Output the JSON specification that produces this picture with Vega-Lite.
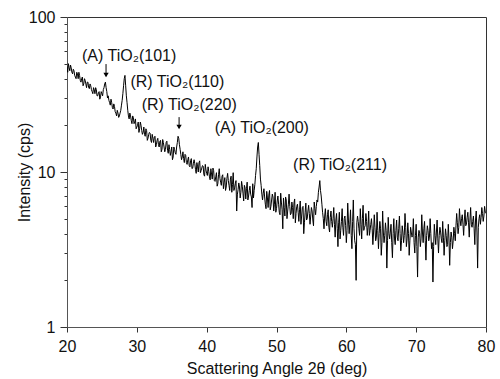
{
  "$schema": "https://vega.github.io/schema/vega-lite/v6.json",
  "width": 419,
  "height": 310,
  "autosize": {"type": "none"},
  "padding": {"left": 67, "top": 17, "right": 14, "bottom": 52},
  "background": "white",
  "config": {
    "view": {"stroke": "#333", "strokeWidth": 1},
    "font": "Liberation Sans",
    "axis": {"grid": false, "domainColor": "#555", "tickColor": "#333", "labelColor": "#111", "titleColor": "#111", "labelFont": "Liberation Sans", "titleFont": "Liberation Sans", "labelFontSize": 16, "titleFontSize": 16, "titleFontWeight": "normal"}
  },
  "datasets": {
    "xrd": [
      {"a":20.0,"i":48},{"a":20.2,"i":50},{"a":20.4,"i":45},{"a":20.6,"i":47},{"a":20.8,"i":43},
      {"a":21.0,"i":45},{"a":21.2,"i":41},{"a":21.4,"i":44},{"a":21.6,"i":40},{"a":21.8,"i":42},
      {"a":22.0,"i":38},{"a":22.2,"i":41},{"a":22.4,"i":37},{"a":22.6,"i":39},{"a":22.8,"i":35},
      {"a":23.0,"i":38},{"a":23.2,"i":34.5},{"a":23.4,"i":36},{"a":23.6,"i":33},{"a":23.8,"i":35},
      {"a":24.0,"i":32},{"a":24.2,"i":34},{"a":24.4,"i":31},{"a":24.6,"i":33},{"a":24.8,"i":30.5},
      {"a":25.0,"i":32},{"a":25.2,"i":34},{"a":25.4,"i":37},{"a":25.6,"i":35},{"a":25.8,"i":30},
      {"a":26.0,"i":29},{"a":26.2,"i":27},{"a":26.4,"i":28},{"a":26.6,"i":25.5},{"a":26.8,"i":26.5},
      {"a":27.0,"i":24},{"a":27.2,"i":25},{"a":27.4,"i":22.5},{"a":27.6,"i":24},{"a":27.8,"i":27},
      {"a":28.0,"i":32},{"a":28.2,"i":40},{"a":28.3,"i":42},{"a":28.4,"i":36},{"a":28.6,"i":28},
      {"a":28.8,"i":23},{"a":29.0,"i":24},{"a":29.2,"i":21.5},{"a":29.4,"i":23},{"a":29.6,"i":20.5},
      {"a":29.8,"i":22},{"a":30.0,"i":19.5},{"a":30.2,"i":21},{"a":30.4,"i":19},{"a":30.6,"i":20},
      {"a":30.8,"i":17.5},{"a":31.0,"i":19.5},{"a":31.2,"i":17},{"a":31.4,"i":18.5},{"a":31.6,"i":16.5},
      {"a":31.8,"i":18},{"a":32.0,"i":16},{"a":32.2,"i":17.5},{"a":32.4,"i":15.5},{"a":32.6,"i":17},
      {"a":32.8,"i":15},{"a":33.0,"i":16.5},{"a":33.2,"i":14.5},{"a":33.4,"i":16},{"a":33.6,"i":14},
      {"a":33.8,"i":15.5},{"a":34.0,"i":13.5},{"a":34.2,"i":15.5},{"a":34.4,"i":13.8},{"a":34.6,"i":15},
      {"a":34.8,"i":12.8},{"a":35.0,"i":14.5},{"a":35.2,"i":12.5},{"a":35.4,"i":14},{"a":35.6,"i":13},
      {"a":35.8,"i":15.5},{"a":36.0,"i":16.5},{"a":36.2,"i":14},{"a":36.4,"i":12},{"a":36.6,"i":13.5},
      {"a":36.8,"i":11.5},{"a":37.0,"i":12.8},{"a":37.2,"i":11.2},{"a":37.4,"i":12.5},{"a":37.6,"i":10.8},
      {"a":37.8,"i":12.2},{"a":38.0,"i":10.6},{"a":38.2,"i":12},{"a":38.4,"i":10.4},{"a":38.6,"i":11.5},
      {"a":38.8,"i":10},{"a":39.0,"i":11.8},{"a":39.2,"i":10.2},{"a":39.4,"i":11},{"a":39.6,"i":9.6},
      {"a":39.8,"i":11.2},{"a":40.0,"i":9.8},{"a":40.2,"i":10.8},{"a":40.4,"i":9.3},{"a":40.6,"i":10.5},
      {"a":40.8,"i":9.0},{"a":41.0,"i":10.2},{"a":41.2,"i":8.7},{"a":41.4,"i":9.9},{"a":41.6,"i":8.4},
      {"a":41.8,"i":10.5},{"a":42.0,"i":8.6},{"a":42.2,"i":9.4},{"a":42.4,"i":7.8},{"a":42.6,"i":9.2},
      {"a":42.8,"i":8.0},{"a":43.0,"i":9.8},{"a":43.2,"i":8.2},{"a":43.4,"i":9.0},{"a":43.6,"i":7.4},
      {"a":43.8,"i":9.9},{"a":44.0,"i":7.9},{"a":44.2,"i":8.8},{"a":44.4,"i":7.2},{"a":44.6,"i":8.5},
      {"a":44.8,"i":6.8},{"a":45.0,"i":8.7},{"a":45.2,"i":7.3},{"a":45.4,"i":8.2},{"a":45.6,"i":6.7},
      {"a":45.8,"i":8.6},{"a":46.0,"i":7.0},{"a":46.2,"i":8.1},{"a":46.4,"i":6.9},{"a":46.6,"i":8.4},
      {"a":46.8,"i":7.6},{"a":47.0,"i":9.5},{"a":47.2,"i":12.5},{"a":47.4,"i":15.5},{"a":47.6,"i":11},
      {"a":47.8,"i":8.2},{"a":48.0,"i":6.6},{"a":48.2,"i":7.8},{"a":48.4,"i":6.2},{"a":48.6,"i":7.5},
      {"a":48.8,"i":5.9},{"a":49.0,"i":7.6},{"a":49.2,"i":6.0},{"a":49.4,"i":7.2},{"a":49.6,"i":5.6},
      {"a":49.8,"i":7.4},{"a":50.0,"i":5.8},{"a":50.2,"i":7.0},{"a":50.4,"i":5.5},{"a":50.6,"i":7.3},
      {"a":50.8,"i":5.7},{"a":51.0,"i":6.8},{"a":51.2,"i":5.2},{"a":51.4,"i":6.6},{"a":51.6,"i":5.6},
      {"a":51.8,"i":7.2},{"a":52.0,"i":5.3},{"a":52.2,"i":6.4},{"a":52.4,"i":5.0},{"a":52.6,"i":6.7},
      {"a":52.8,"i":5.4},{"a":53.0,"i":6.2},{"a":53.2,"i":4.8},{"a":53.4,"i":6.5},{"a":53.6,"i":5.2},
      {"a":53.8,"i":6.0},{"a":54.0,"i":4.7},{"a":54.2,"i":6.3},{"a":54.4,"i":5.0},{"a":54.6,"i":6.1},
      {"a":54.8,"i":4.6},{"a":55.0,"i":5.9},{"a":55.2,"i":4.9},{"a":55.4,"i":6.4},{"a":55.6,"i":5.3},
      {"a":55.8,"i":6.6},{"a":56.0,"i":7.4},{"a":56.2,"i":8.8},{"a":56.4,"i":7.0},{"a":56.6,"i":5.5},
      {"a":56.8,"i":4.3},{"a":57.0,"i":5.8},{"a":57.2,"i":4.5},{"a":57.4,"i":5.7},{"a":57.6,"i":4.1},
      {"a":57.8,"i":5.6},{"a":58.0,"i":4.4},{"a":58.2,"i":5.9},{"a":58.4,"i":3.8},{"a":58.6,"i":5.4},
      {"a":58.8,"i":3.3},{"a":59.0,"i":5.5},{"a":59.2,"i":4.2},{"a":59.4,"i":5.8},{"a":59.6,"i":3.9},
      {"a":59.8,"i":5.2},{"a":60.0,"i":3.5},{"a":60.2,"i":6.3},{"a":60.4,"i":4.0},{"a":60.6,"i":5.7},
      {"a":60.8,"i":3.2},{"a":61.0,"i":6.6},{"a":61.2,"i":3.6},{"a":61.4,"i":2.0},{"a":61.6,"i":5.2},
      {"a":61.8,"i":4.3},{"a":62.0,"i":5.8},{"a":62.2,"i":3.7},{"a":62.4,"i":6.1},{"a":62.6,"i":4.4},
      {"a":62.8,"i":5.4},{"a":63.0,"i":3.9},{"a":63.2,"i":5.6},{"a":63.4,"i":4.2},{"a":63.6,"i":5.0},
      {"a":63.8,"i":3.4},{"a":64.0,"i":5.3},{"a":64.2,"i":3.6},{"a":64.4,"i":5.5},{"a":64.6,"i":3.2},
      {"a":64.8,"i":4.8},{"a":65.0,"i":2.9},{"a":65.2,"i":5.6},{"a":65.4,"i":3.5},{"a":65.6,"i":4.7},
      {"a":65.8,"i":2.4},{"a":66.0,"i":5.1},{"a":66.2,"i":3.7},{"a":66.4,"i":4.6},{"a":66.6,"i":2.8},
      {"a":66.8,"i":5.0},{"a":67.0,"i":3.4},{"a":67.2,"i":4.9},{"a":67.4,"i":3.6},{"a":67.6,"i":5.2},
      {"a":67.8,"i":3.1},{"a":68.0,"i":4.5},{"a":68.2,"i":3.5},{"a":68.4,"i":5.4},{"a":68.6,"i":3.3},
      {"a":68.8,"i":4.7},{"a":69.0,"i":2.9},{"a":69.2,"i":4.4},{"a":69.4,"i":3.8},{"a":69.6,"i":5.0},
      {"a":69.8,"i":3.0},{"a":70.0,"i":4.6},{"a":70.2,"i":2.1},{"a":70.4,"i":4.2},{"a":70.6,"i":3.3},
      {"a":70.8,"i":5.3},{"a":71.0,"i":3.5},{"a":71.2,"i":4.8},{"a":71.4,"i":2.7},{"a":71.6,"i":4.5},
      {"a":71.8,"i":3.6},{"a":72.0,"i":5.0},{"a":72.2,"i":3.2},{"a":72.4,"i":1.95},{"a":72.6,"i":4.6},
      {"a":72.8,"i":3.4},{"a":73.0,"i":4.9},{"a":73.2,"i":3.0},{"a":73.4,"i":4.4},{"a":73.6,"i":3.7},
      {"a":73.8,"i":4.8},{"a":74.0,"i":2.9},{"a":74.2,"i":4.3},{"a":74.4,"i":3.3},{"a":74.6,"i":4.6},
      {"a":74.8,"i":2.5},{"a":75.0,"i":4.1},{"a":75.2,"i":3.2},{"a":75.4,"i":4.4},{"a":75.6,"i":3.6},
      {"a":75.8,"i":5.4},{"a":76.0,"i":4.0},{"a":76.2,"i":5.8},{"a":76.4,"i":4.5},{"a":76.6,"i":5.3},
      {"a":76.8,"i":3.9},{"a":77.0,"i":5.7},{"a":77.2,"i":4.6},{"a":77.4,"i":5.5},{"a":77.6,"i":3.8},
      {"a":77.8,"i":5.9},{"a":78.0,"i":4.4},{"a":78.2,"i":5.2},{"a":78.4,"i":3.4},{"a":78.6,"i":5.6},
      {"a":78.8,"i":2.4},{"a":79.0,"i":5.0},{"a":79.2,"i":4.6},{"a":79.4,"i":5.9},{"a":79.6,"i":4.8},
      {"a":79.8,"i":6.0},{"a":80.0,"i":5.4},
      {"a":20.1,"i":44},{"a":20.3,"i":47},{"a":20.5,"i":49},{"a":20.7,"i":44},{"a":20.9,"i":46},
      {"a":21.1,"i":42},{"a":21.3,"i":40},{"a":21.5,"i":43},{"a":21.7,"i":44},{"a":21.9,"i":39},
      {"a":22.1,"i":40},{"a":22.3,"i":36},{"a":22.5,"i":40},{"a":22.7,"i":37},{"a":22.9,"i":38},
      {"a":23.1,"i":35},{"a":23.3,"i":37},{"a":23.5,"i":34},{"a":23.7,"i":32},{"a":23.9,"i":34},
      {"a":24.1,"i":35},{"a":24.3,"i":31},{"a":24.5,"i":32.5},{"a":24.7,"i":29.5},{"a":24.9,"i":33},
      {"a":25.1,"i":31},{"a":25.3,"i":35},{"a":25.5,"i":38},{"a":25.7,"i":33},{"a":25.9,"i":31},
      {"a":26.1,"i":28},{"a":26.3,"i":29.5},{"a":26.5,"i":26},{"a":26.7,"i":27.5},{"a":26.9,"i":24.5},
      {"a":27.1,"i":23},{"a":27.3,"i":24},{"a":27.5,"i":23},{"a":27.7,"i":25},{"a":27.9,"i":29},
      {"a":28.1,"i":36},{"a":28.5,"i":31},{"a":28.7,"i":25},{"a":28.9,"i":22},
      {"a":29.1,"i":23},{"a":29.3,"i":20.5},{"a":29.5,"i":22.5},{"a":29.7,"i":21},{"a":29.9,"i":19},
      {"a":30.1,"i":20},{"a":30.3,"i":18},{"a":30.5,"i":21},{"a":30.7,"i":18.5},{"a":30.9,"i":18},
      {"a":31.1,"i":17.5},{"a":31.3,"i":19},{"a":31.5,"i":16},{"a":31.7,"i":17.5},{"a":31.9,"i":17.8},
      {"a":32.1,"i":15.5},{"a":32.3,"i":16.5},{"a":32.5,"i":16.8},{"a":32.7,"i":14.5},{"a":32.9,"i":16},
      {"a":33.1,"i":15},{"a":33.3,"i":15.8},{"a":33.5,"i":13.5},{"a":33.7,"i":16.2},{"a":33.9,"i":14.5},
      {"a":34.1,"i":14},{"a":34.3,"i":15.8},{"a":34.5,"i":13.2},{"a":34.7,"i":14},{"a":34.9,"i":13.5},
      {"a":35.1,"i":12},{"a":35.3,"i":14.5},{"a":35.5,"i":13.3},{"a":35.7,"i":14.5},{"a":35.9,"i":17},
      {"a":36.1,"i":15},{"a":36.3,"i":13},{"a":36.5,"i":12.5},{"a":36.7,"i":12.2},{"a":36.9,"i":13},
      {"a":37.1,"i":11.5},{"a":37.3,"i":12},{"a":37.5,"i":11},{"a":37.7,"i":11.8},{"a":37.9,"i":10.5},
      {"a":38.1,"i":11.4},{"a":38.3,"i":11.3},{"a":38.5,"i":9.8},{"a":38.7,"i":10.8},{"a":38.9,"i":11.5},
      {"a":39.1,"i":9.9},{"a":39.3,"i":10.6},{"a":39.5,"i":10.9},{"a":39.7,"i":9.4},{"a":39.9,"i":10.3},
      {"a":40.1,"i":9.5},{"a":40.3,"i":10.1},{"a":40.5,"i":8.9},{"a":40.7,"i":9.7},{"a":40.9,"i":10.6},
      {"a":41.1,"i":8.8},{"a":41.3,"i":9.3},{"a":41.5,"i":8.1},{"a":41.7,"i":9.6},{"a":41.9,"i":9.1},
      {"a":42.1,"i":8.2},{"a":42.3,"i":9.6},{"a":42.5,"i":8.6},{"a":42.7,"i":7.6},{"a":42.9,"i":9.1},
      {"a":43.1,"i":8.8},{"a":43.3,"i":7.6},{"a":43.5,"i":9.4},{"a":43.7,"i":8.3},{"a":43.9,"i":7.6},
      {"a":44.1,"i":8.4},{"a":44.3,"i":5.6},{"a":44.5,"i":7.7},{"a":44.7,"i":8.0},{"a":44.9,"i":7.4},
      {"a":45.1,"i":8.1},{"a":45.3,"i":6.5},{"a":45.5,"i":7.9},{"a":45.7,"i":7.8},{"a":45.9,"i":6.6},
      {"a":46.1,"i":7.6},{"a":46.3,"i":7.2},{"a":46.5,"i":5.9},{"a":46.7,"i":6.8},{"a":46.9,"i":8.3},
      {"a":47.1,"i":10.5},{"a":47.3,"i":14.5},{"a":47.5,"i":13},{"a":47.7,"i":9},{"a":47.9,"i":7.2},
      {"a":48.1,"i":7.3},{"a":48.3,"i":6.9},{"a":48.5,"i":5.8},{"a":48.7,"i":6.8},{"a":48.9,"i":7.1},
      {"a":49.1,"i":5.7},{"a":49.3,"i":6.6},{"a":49.5,"i":6.9},{"a":49.7,"i":6.2},{"a":49.9,"i":5.5},
      {"a":50.1,"i":6.5},{"a":50.3,"i":6.2},{"a":50.5,"i":5.3},{"a":50.7,"i":6.4},{"a":50.9,"i":4.3},
      {"a":51.1,"i":5.9},{"a":51.3,"i":6.9},{"a":51.5,"i":5.0},{"a":51.7,"i":6.2},{"a":51.9,"i":6.0},
      {"a":52.1,"i":5.4},{"a":52.3,"i":5.9},{"a":52.5,"i":6.3},{"a":52.7,"i":4.7},{"a":52.9,"i":6.0},
      {"a":53.1,"i":5.5},{"a":53.3,"i":5.7},{"a":53.5,"i":4.6},{"a":53.7,"i":5.9},{"a":53.9,"i":4.0},
      {"a":54.1,"i":5.5},{"a":54.3,"i":4.9},{"a":54.5,"i":5.6},{"a":54.7,"i":5.4},{"a":54.9,"i":5.2},
      {"a":55.1,"i":5.6},{"a":55.3,"i":4.5},{"a":55.5,"i":5.8},{"a":55.7,"i":6.0},{"a":55.9,"i":6.4},
      {"a":56.1,"i":8.0},{"a":56.3,"i":7.6},{"a":56.5,"i":6.2},{"a":56.7,"i":5.0},{"a":56.9,"i":5.2},
      {"a":57.1,"i":4.8},{"a":57.3,"i":5.3},{"a":57.5,"i":4.4},{"a":57.7,"i":5.1},{"a":57.9,"i":4.8},
      {"a":58.1,"i":5.0},{"a":58.3,"i":4.6},{"a":58.5,"i":4.9},{"a":58.7,"i":4.3},{"a":58.9,"i":4.7},
      {"a":59.1,"i":3.7},{"a":59.3,"i":4.8},{"a":59.5,"i":4.4},{"a":59.7,"i":5.0},{"a":59.9,"i":4.5},
      {"a":60.1,"i":4.2},{"a":60.3,"i":4.9},{"a":60.5,"i":4.6},{"a":60.7,"i":3.9},{"a":60.9,"i":4.8},
      {"a":61.1,"i":4.3},{"a":61.3,"i":3.4},{"a":61.5,"i":4.7},{"a":61.7,"i":4.8},{"a":61.9,"i":3.9},
      {"a":62.1,"i":4.6},{"a":62.3,"i":5.0},{"a":62.5,"i":4.2},{"a":62.7,"i":4.5},{"a":62.9,"i":4.8},
      {"a":63.1,"i":4.4},{"a":63.3,"i":3.9},{"a":63.5,"i":4.6},{"a":63.7,"i":4.3},{"a":63.9,"i":4.1},
      {"a":64.1,"i":4.4},{"a":64.3,"i":3.8},{"a":64.5,"i":4.2},{"a":64.7,"i":4.0},{"a":64.9,"i":4.3},
      {"a":65.1,"i":3.5},{"a":65.3,"i":4.1},{"a":65.5,"i":3.9},{"a":65.7,"i":4.2},{"a":65.9,"i":3.6},
      {"a":66.1,"i":4.0},{"a":66.3,"i":4.1},{"a":66.5,"i":3.5},{"a":66.7,"i":4.0},{"a":66.9,"i":3.7},
      {"a":67.1,"i":4.2},{"a":67.3,"i":3.8},{"a":67.5,"i":4.3},{"a":67.7,"i":4.0},{"a":67.9,"i":3.6},
      {"a":68.1,"i":4.1},{"a":68.3,"i":3.9},{"a":68.5,"i":4.4},{"a":68.7,"i":3.7},{"a":68.9,"i":4.0},
      {"a":69.1,"i":3.6},{"a":69.3,"i":4.1},{"a":69.5,"i":3.9},{"a":69.7,"i":3.5},{"a":69.9,"i":3.9},
      {"a":70.1,"i":3.3},{"a":70.3,"i":3.8},{"a":70.5,"i":4.0},{"a":70.7,"i":3.7},{"a":70.9,"i":4.1},
      {"a":71.1,"i":4.3},{"a":71.3,"i":3.6},{"a":71.5,"i":3.9},{"a":71.7,"i":4.2},{"a":71.9,"i":3.8},
      {"a":72.1,"i":4.0},{"a":72.3,"i":3.5},{"a":72.5,"i":3.3},{"a":72.7,"i":3.9},{"a":72.9,"i":4.1},
      {"a":73.1,"i":3.7},{"a":73.3,"i":3.9},{"a":73.5,"i":4.1},{"a":73.7,"i":3.5},{"a":73.9,"i":3.8},
      {"a":74.1,"i":3.6},{"a":74.3,"i":3.9},{"a":74.5,"i":3.4},{"a":74.7,"i":3.7},{"a":74.9,"i":3.5},
      {"a":75.1,"i":3.8},{"a":75.3,"i":3.6},{"a":75.5,"i":4.0},{"a":75.7,"i":4.5},{"a":75.9,"i":4.7},
      {"a":76.1,"i":4.4},{"a":76.3,"i":4.9},{"a":76.5,"i":5.0},{"a":76.7,"i":4.6},{"a":76.9,"i":4.9},
      {"a":77.1,"i":4.5},{"a":77.3,"i":5.1},{"a":77.5,"i":4.7},{"a":77.7,"i":4.9},{"a":77.9,"i":4.6},
      {"a":78.1,"i":4.8},{"a":78.3,"i":4.3},{"a":78.5,"i":4.9},{"a":78.7,"i":4.1},{"a":78.9,"i":4.4},
      {"a":79.1,"i":5.3},{"a":79.3,"i":5.1},{"a":79.5,"i":5.4},{"a":79.7,"i":5.2},{"a":79.9,"i":5.5}
    ],
    "labels": [
      {"a": 28.9, "i": 56, "t": "(A) TiO₂(101)"},
      {"a": 35.8, "i": 38.1, "t": "(R) TiO₂(110)"},
      {"a": 37.5, "i": 27.1, "t": "(R) TiO₂(220)"},
      {"a": 47.9, "i": 19.2, "t": "(A) TiO₂(200)"},
      {"a": 59.1, "i": 11.1, "t": "(R) TiO₂(211)"}
    ],
    "arrows": [
      {"a": 25.59, "top": 49.7, "bottom": 41.5, "head": 42.3},
      {"a": 36.05, "top": 22.6, "bottom": 19.3, "head": 19.5}
    ]
  },
  "layer": [
    {
      "data": {"name": "xrd"},
      "mark": {"type": "line", "color": "#000", "strokeWidth": 1, "clip": true},
      "encoding": {
        "x": {"field": "a", "type": "quantitative", "scale": {"domain": [20, 80], "nice": false, "zero": false},
          "axis": {"title": "Scattering Angle 2θ (deg)", "values": [20,25,30,35,40,45,50,55,60,65,70,75,80],
            "labelExpr": "datum.value % 10 == 0 ? datum.label : ''",
            "tickSize": {"condition": {"test": "datum.value % 10 == 0", "value": 5}, "value": 3},
            "labelPadding": 6, "titlePadding": 6, "labelFlush": false}},
        "y": {"field": "i", "type": "quantitative", "scale": {"type": "log", "domain": [1, 100], "nice": false},
          "axis": {"title": "Intensity (cps)", "values": [1,2,3,4,5,6,7,8,9,10,20,30,40,50,60,70,80,90,100],
            "labelExpr": "datum.value == 1 || datum.value == 10 || datum.value == 100 ? format(datum.value, 'd') : ''",
            "tickSize": {"condition": {"test": "datum.value == 1 || datum.value == 10 || datum.value == 100", "value": 7}, "value": 3},
            "labelPadding": 5, "titlePadding": -4, "labelFlush": false}}
      }
    },
    {
      "data": {"name": "arrows"},
      "mark": {"type": "rule", "color": "#000", "strokeWidth": 1},
      "encoding": {
        "x": {"field": "a", "type": "quantitative"},
        "y": {"field": "top", "type": "quantitative"},
        "y2": {"field": "bottom"}
      }
    },
    {
      "data": {"name": "arrows"},
      "mark": {"type": "point", "shape": "triangle-down", "filled": true, "color": "#000", "size": 28, "opacity": 1},
      "encoding": {
        "x": {"field": "a", "type": "quantitative"},
        "y": {"field": "head", "type": "quantitative"}
      }
    },
    {
      "data": {"name": "labels"},
      "mark": {"type": "text", "font": "Liberation Sans", "fontSize": 16, "color": "#111", "align": "center", "baseline": "middle"},
      "encoding": {
        "x": {"field": "a", "type": "quantitative"},
        "y": {"field": "i", "type": "quantitative"},
        "text": {"field": "t"}
      }
    }
  ]
}
